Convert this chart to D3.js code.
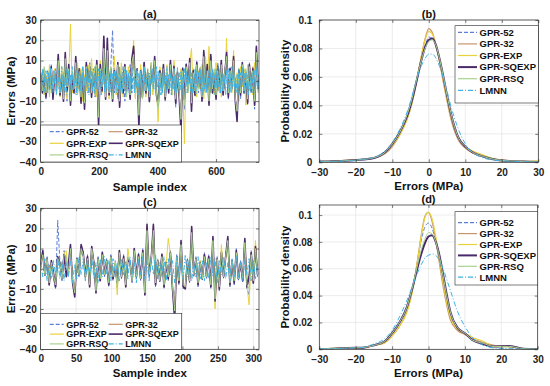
<!DOCTYPE html>
<html><head><meta charset="utf-8">
<script src="https://cdn.jsdelivr.net/npm/d3@7"></script>
<style>
body{margin:0;background:#fff;}
svg{display:block;font-family:"Liberation Sans",Arial,sans-serif;font-weight:bold;}
</style></head><body>
<svg id="c" width="550" height="386"></svg>
<script>
const seriesNames = ["GPR-52","GPR-32","GPR-EXP","GPR-SQEXP","GPR-RSQ","LMNN"];
const seriesColors = ["#5b7fd6","#c8956a","#e8d23c","#4a2a6a","#a9d28f","#3fb3e6"];

// ---- panel (a): errors vs sample index (every 6th sample; LMNN every 3rd) ----
const aIndex = d3.range(0, 750, 6);
const aIndexLMNN = d3.range(0, 750, 3);
const a52 = [4,-3,6,-9,5,-2,8,-6,3,-7, 9,-4,6,-8,3,-10,7,-5,4,-3, 8,-6,5,-9,7,-12,4,-6,9,-3, 6,-8,3,-15,7,-4,20,-7,12,-5, 8,25,-6,4,-9,6,-3,7,-10,5, -4,8,-6,14,-8,5,-16,6,-3,9, -7,4,-11,8,-5,10,-6,-9,4,-6, 7,-10,5,-4,9,-6,8,-13,5,-7, -18,7,-14,9,-5,6,-12,4,-8,10, -6,5,-9,13,-4,7,-10,12,-5,3, -8,9,-4,8,-6,4,15,-9,7,-3, 11,-8,-15,6,-9,7,-4,5,-12,9, -6,5,-14,15,-3];
const a32 = [1,-4,6,-7,4,-5,7,-8,2,-5, 11,-5,3,-9,12,-6,7,-11,4,-5, 10,-3,5,-10,4,-12,8,-4,6,-7, 3,-5,9,-20,7,-4,19,-8,18,-6, 5,-8,6,-3,8,-11,4,-5,7,-4, 3,-8,10,15,-3,5,-20,6,-7,8, -5,3,-9,6,-4,11,-6,-13,4,-5, 7,-8,4,-5,9,-4,6,-10,5,-7, -22,5,-10,7,-3,10,-13,6,-6,8, -4,5,-9,14,-4,7,-11,12,-5,5, -8,6,-4,9,-6,4,13,-7,5,-3, 11,-9,-18,6,-6,8,-5,3,-10,7, -4,7,-11,16,-3];
const aEXP = [-2,5,-7,3,-4,8,-6,2,6,-5, 4,-8,7,-3,5,-9,3,28,-6,4, -7,9,-4,6,-10,3,-5,8,-6,11, -3,7,-8,4,10,-6,5,-4,8,-9, 3,-5,12,-7,6,-3,9,-8,4,-6, 7,-4,5,20,-9,4,-6,8,-5,3, -8,6,-4,9,-7,5,-3,-20,7,-5, 4,-9,8,-3,6,-7,10,-4,5,-8, 6,-5,-31,7,-4,9,16,-6,3,-8, 5,-4,8,-9,12,-3,17,-6,4,-7, 9,-5,6,-8,3,-4,21,-7,5,-6, 15,-8,4,-10,7,-3,6,-12,8,-5, 4,-7,9,5,-6];
const aSQEXP = [3,-6,5,-8,2,-4,7,-9,4,-3, 13,-7,2,-10,14,-5,8,-12,3,-6, 12,-4,6,-11,5,-14,9,-3,7,-8, 4,-6,10,-22,8,-5,22,-9,21,-7, 6,-10,5,-4,9,-13,3,-6,8,-5, 2,-9,11,17,-4,6,-23,5,-8,9, -6,4,-10,7,-3,12,-7,-12,5,-4, 8,-9,3,-6,10,-5,7,-11,4,-8, -25,6,-9,8,-4,11,-15,5,-7,9, -3,6,-10,15,-5,8,-12,13,-6,4, -9,7,-5,10,-7,3,14,-8,6,-4, 12,-10,-20,5,-7,9,-6,4,-11,8, -5,6,-12,17,-4];
const aRSQ = [2,-5,7,-6,3,-8,6,-4,5,-7, 10,-6,4,-9,11,-3,6,-10,5,-4, 9,-7,4,-8,6,-11,7,-5,8,-6, 5,-7,8,-18,6,-3,16,-8,15,-6, 7,-9,4,-6,8,-10,5,-4,7,-8, 4,-7,9,13,-6,5,-17,4,-9,7, -5,6,-8,9,-4,10,-6,-14,4,-7, 6,-8,5,-4,8,-7,6,-9,3,-6, -19,5,-12,7,-6,9,-11,4,-5,8, -4,7,-8,12,-6,5,-10,10,-4,6, -7,5,-6,8,-5,4,12,-6,5,-5, 10,-9,-15,4,-6,8,-5,6,-9,7, -4,5,-10,14,-5];
const aLMNN = [4,-2,6,-5,3,-7,5,1,-6,4, -3,7,-4,2,-6,5,-2,6,-7,3, 5,-4,1,-6,7,-3,4,-5,2,-7, 6,-2,5,-6,3,-4,7,-5,1,-3, 5,-7,4,-2,6,-5,3,-6,7,-4, 2,-5,6,-3,4,-7,5,-1,6,-5, 3,-6,7,-4,2,-5,6,-3,5,-7, 4,-2,6,-6,3,-4,7,-5,2,-6, 5,-3,4,-7,6,-2,5,-6,3,-4, 7,-5,2,-6,4,-3,6,-7,5,-2, 4,-6,3,-5,7,-4,2,-6,5,-3, 6,-7,4,-2,5,-6,3,-4,7,-5, 2,-3,6,-5,4,-7,5,-2,6,-4, 3,-6,7,-3,5,-5,2,-7,4,-6, 6,-2,4,-6,7,-4,3,-5,5,-7, 2,-4,6,-5,3,-6,7,-3,4,-5, 5,-7,2,-4,6,-3,5,-6,3,-2, 7,-5,4,-6,2,-4,6,-7,5,-3, 4,-2,6,-5,3,-7,5,-4,7,-6, 2,-3,5,-6,4,-5,6,-2,3,-7, 6,-4,7,-3,5,-6,2,-5,4,-4, 3,-7,5,-2,6,-5,4,-6,7,-3, 5,-4,2,-6,3,-7,6,-3,4,-5, 7,-2,5,-6,4,-4,3,-7,6,-5, 2,-6,4,-3,5,-5,7,-4,3,-6];

// ---- panel (c): errors vs sample index (every 3rd sample) ----
const cIndex = d3.range(0, 309, 3);
const c52 = [3,5,-4,6,-7,2,-5,-10,24,4, -6,9,5,-4,11,-6,-11,6,-4,9, 6,-3,7,-8,8,4,-9,6,-5,9, -4,5,-9,7,-6,4,-10,8,-5,7, -8,6,4,-7,9,-5,8,-6,10,-10, 16,-4,6,17,-9,5,-7,8,-10,4, -6,9,-11,-18,7,-8,11,-10,-8,5, -7,16,-4,6,-9,4,-6,8,-5,7, -10,12,-14,6,-11,9,-5,7,13,-9, 5,-8,10,-6,4,-7,12,-10,-13,9, -8,10,-4];
const c32 = [2,8,-3,5,-8,3,-3,-9,6,3, -5,7,5,-3,11,-7,-13,5,-3,11, 8,-4,6,-9,10,3,-11,5,-6,8, -3,4,-8,6,-5,2,-8,9,-4,6, -9,5,3,-6,10,-4,7,-5,9,-13, 21,-3,5,21,-8,4,-6,7,-9,3, -5,8,-10,-23,6,-7,13,-9,-10,4, -6,20,-3,5,-8,3,-5,7,-4,6, -9,15,-15,5,-10,8,-4,6,15,-8, 4,-7,9,-5,3,-6,14,-9,-5,8, -7,11,-3];
const cEXP = [1,6,-2,4,-6,3,-4,-7,5,2, -4,8,9,-3,10,-5,-10,4,-2,10, 7,-5,5,-8,9,2,-10,4,-4,7, -2,3,-7,5,-4,3,-13,8,-3,5, -7,10,2,-5,8,-3,6,-4,7,-11, 18,-2,4,18,-7,5,-5,6,-8,2, 15,7,-9,-20,5,-6,12,-8,-9,3, -5,17,-2,4,-7,4,-4,6,-3,5, -8,13,-20,4,-9,12,-3,5,13,-7, 3,-6,8,-4,2,-5,13,-8,-18,7, -6,14,-2];
const cSQEXP = [2,9,-3,5,-8,4,-2,-9,6,3, -5,7,-4,2,12,-7,-14,5,-3,12, 8,-4,6,-9,11,3,-12,5,-6,8, -3,4,-8,6,-5,2,-7,9,-4,6, -9,5,3,-6,10,-4,7,-5,9,-13, 22,-3,5,22,-8,4,-6,7,-9,3, -5,8,-10,-25,6,-7,14,-9,-10,4, -6,21,-3,5,-8,3,-5,7,-4,6, -9,16,-16,5,-10,8,-4,6,16,-8, 4,-7,9,-5,3,-6,15,-9,-4,8, -7,11,-3];
const cRSQ = [2,7,-3,5,-7,3,-3,-8,5,3, -5,7,6,-3,10,-6,-12,5,-3,10, 7,-4,5,-8,10,3,-11,5,-5,7, -3,4,-7,6,-4,3,-9,8,-4,5, -8,6,3,-6,9,-4,6,-5,8,-12, 19,-3,5,19,-7,4,-6,6,-8,3, -4,8,-9,-21,6,-6,12,-8,-9,4, -6,18,-3,5,-7,3,-5,6,-4,5, -8,14,-15,5,-9,9,-4,6,14,-7, 4,-6,8,-5,3,-5,13,-8,-10,7, -6,10,-3];
const cLMNN = [3,-4,5,-6,2,-5,4,-3,6,-5, 4,-6,3,-4,5,-7,2,-5,6,-3, 5,-6,4,-3,6,-5,3,-7,5,-4, 6,-3,4,-6,5,-4,3,-6,5,-3, 4,-5,6,-4,3,-7,5,-3,6,-5, 4,-6,5,-3,7,-5,3,-4,6,-6, 5,-3,4,-7,6,-4,3,-5,7,-4, 5,-6,3,-4,6,-5,4,-6,3,-5, 6,-4,5,-7,4,-3,6,-5,3,-6, 5,-4,6,-5,3,-6,4,-3,5,-6, 4,-5,3];

// ---- density grid (errors, MPa) ----
const errGrid = [-30,-26,-22,-18,-15,-12,-10,-8,-6,-5,-4,-3,-2,-1,0,1,2,3,4,5,6,8,10,12,15,18,22,26,30];
const b52 = [0.0005,0.0007,0.0012,0.002,0.0032,0.007,0.013,0.021,0.032,0.040,0.050,0.062,0.073,0.082,0.088,0.087,0.081,0.071,0.059,0.046,0.034,0.018,0.011,0.007,0.004,0.002,0.001,0.0005,0.0002];
const b32 = [0.0004,0.0006,0.0012,0.002,0.003,0.006,0.011,0.019,0.030,0.038,0.048,0.061,0.075,0.087,0.094,0.091,0.082,0.070,0.056,0.043,0.031,0.016,0.010,0.0065,0.004,0.002,0.001,0.0005,0.0003];
const bEXP = [0.0005,0.0008,0.0016,0.002,0.003,0.007,0.012,0.019,0.030,0.038,0.049,0.062,0.075,0.086,0.092,0.090,0.082,0.070,0.057,0.044,0.033,0.018,0.011,0.008,0.005,0.0025,0.0012,0.0006,0.001];
const bSQEXP = [0.0005,0.0007,0.0012,0.002,0.003,0.007,0.013,0.021,0.032,0.040,0.050,0.061,0.072,0.081,0.086,0.087,0.082,0.072,0.060,0.047,0.035,0.018,0.011,0.007,0.004,0.002,0.001,0.0005,0.0002];
const bRSQ = [0.0005,0.0007,0.0012,0.002,0.0032,0.007,0.013,0.021,0.033,0.041,0.051,0.062,0.072,0.080,0.085,0.086,0.082,0.072,0.060,0.047,0.035,0.018,0.011,0.007,0.004,0.002,0.001,0.0005,0.0002];
const bLMNN = [0.0004,0.0006,0.001,0.002,0.0035,0.008,0.014,0.023,0.035,0.043,0.052,0.061,0.068,0.073,0.076,0.076,0.073,0.067,0.059,0.050,0.040,0.024,0.013,0.007,0.003,0.0015,0.0008,0.0004,0.0002];

const d52 = [0.0003,0.0006,0.001,0.0013,0.003,0.006,0.011,0.019,0.030,0.039,0.051,0.066,0.081,0.091,0.094,0.090,0.080,0.066,0.050,0.036,0.025,0.015,0.012,0.008,0.005,0.0025,0.002,0.0005,0.0002];
const d32 = [0.0003,0.0008,0.001,0.0012,0.003,0.005,0.010,0.017,0.028,0.037,0.050,0.067,0.085,0.099,0.102,0.095,0.081,0.064,0.047,0.033,0.022,0.014,0.011,0.008,0.005,0.003,0.002,0.0005,0.0002];
const dEXP = [0.0003,0.0008,0.001,0.0012,0.003,0.005,0.010,0.017,0.027,0.036,0.049,0.066,0.084,0.098,0.102,0.097,0.084,0.067,0.050,0.035,0.024,0.015,0.012,0.009,0.006,0.002,0.002,0.0005,0.0002];
const dSQEXP = [0.0003,0.0005,0.001,0.0012,0.003,0.006,0.012,0.020,0.031,0.040,0.050,0.061,0.071,0.079,0.084,0.085,0.080,0.070,0.056,0.041,0.028,0.016,0.012,0.007,0.004,0.002,0.0025,0.0005,0.0002];
const dRSQ = [0.0003,0.0006,0.001,0.0013,0.003,0.006,0.012,0.020,0.031,0.040,0.051,0.063,0.074,0.082,0.087,0.086,0.080,0.069,0.055,0.040,0.028,0.016,0.012,0.007,0.0045,0.002,0.0022,0.0005,0.0002];
const dLMNN = [0.0003,0.0005,0.0008,0.0015,0.004,0.008,0.014,0.024,0.036,0.043,0.050,0.057,0.063,0.068,0.070,0.071,0.070,0.066,0.060,0.052,0.044,0.028,0.017,0.009,0.003,0.001,0.0005,0.0002,0.0001];

const errTicks = [30,20,10,0,-10,-20,-30,-40];
const aXTicks = [0,200,400,600];
const cXTicks = [0,50,100,150,200,250,300];
const densXTicks = [-30,-20,-10,0,10,20,30];
const densYTicks = [0,0.02,0.04,0.06,0.08,0.1];

const dash = ["4,2","", "", "", "", "5,2,1,2"];
const widthTS = [1,1,1,1.6,1,1];
const widthPD = [1,1.2,1.2,2,1,1];

const svg = d3.select("#c");
const ink = "#262626";

function panel(o){
  const g = svg.append("g");
  const x = d3.scaleLinear().domain(o.xd).range([o.l, o.r]);
  const y = d3.scaleLinear().domain(o.yd).range([o.b, o.t]);
  g.append("g").selectAll("line").data(o.xt).join("line")
    .attr("x1",d=>x(d)).attr("x2",d=>x(d)).attr("y1",o.t).attr("y2",o.b)
    .attr("stroke","#e4e4e4").attr("stroke-width",0.7);
  g.append("g").selectAll("line").data(o.yt).join("line")
    .attr("y1",d=>y(d)).attr("y2",d=>y(d)).attr("x1",o.l).attr("x2",o.r)
    .attr("stroke","#e4e4e4").attr("stroke-width",0.7);
  const cid = "clip"+o.id;
  svg.append("clipPath").attr("id",cid).append("rect")
    .attr("x",o.l).attr("y",o.t).attr("width",o.r-o.l).attr("height",o.b-o.t);
  const lg = g.append("g").attr("clip-path",`url(#${cid})`);
  const curve = o.curve || d3.curveLinear;
  o.series.forEach((s,i)=>{
    const xs = o.xsList ? o.xsList[i] : o.xs;
    const line = d3.line().x((d,j)=>x(xs[j])).y(d=>y(d)).curve(curve);
    lg.append("path").attr("d",line(s)).attr("fill","none")
      .attr("stroke",seriesColors[i]).attr("stroke-width",o.widths[i])
      .attr("stroke-dasharray",dash[i]||null).attr("stroke-linejoin","round");
  });
  const xa = d3.axisBottom(x).tickValues(o.xt).tickSize(-3).tickPadding(o.xpad||6).tickFormat(o.xf||d3.format("d"));
  const ya = d3.axisLeft(y).tickValues(o.yt).tickSize(-3).tickPadding(o.ypad||4).tickFormat(o.yf||d3.format("d"));
  const xg = g.append("g").attr("transform",`translate(0,${o.b})`).call(xa);
  const yg = g.append("g").attr("transform",`translate(${o.l},0)`).call(ya);
  const xt2 = g.append("g").attr("transform",`translate(0,${o.t})`).call(d3.axisTop(x).tickValues(o.xt).tickSize(-3).tickFormat(""));
  const yt2 = g.append("g").attr("transform",`translate(${o.r},0)`).call(d3.axisRight(y).tickValues(o.yt).tickSize(-3).tickFormat(""));
  [xg,yg,xt2,yt2].forEach(a=>{
    a.select(".domain").remove();
    a.selectAll("line").attr("stroke",ink).attr("stroke-width",0.6);
    a.selectAll("text").attr("font-size",10).attr("font-weight","bold").attr("fill","#222")
     .attr("font-family","'Liberation Sans',Arial,sans-serif");
  });
  g.append("rect").attr("x",o.l).attr("y",o.t).attr("width",o.r-o.l).attr("height",o.b-o.t)
    .attr("fill","none").attr("stroke",ink).attr("stroke-width",0.7);
  g.append("text").attr("x",(o.l+o.r)/2).attr("y",o.t-2.5).attr("text-anchor","middle")
    .attr("font-size",11).attr("fill","#111").text(o.title);
  g.append("text").attr("x",(o.l+o.r)/2).attr("y",o.b+o.xly).attr("text-anchor","middle")
    .attr("font-size",11.5).attr("fill","#111").text(o.xl);
  g.append("text").attr("transform",`translate(${o.yx},${(o.t+o.b)/2}) rotate(-90)`)
    .attr("text-anchor","middle").attr("font-size",11.5).attr("fill","#111").text(o.yl);
  const L = o.leg;
  const lgG = g.append("g");
  lgG.append("rect").attr("x",L.x).attr("y",L.y).attr("width",L.w).attr("height",L.h)
    .attr("fill","#fff").attr("stroke",ink).attr("stroke-width",0.6);
  seriesNames.forEach((n,i)=>{
    const col = L.cols===2 ? i%2 : 0;
    const row = L.cols===2 ? Math.floor(i/2) : i;
    const lx = L.x + L.pad + col*L.colW;
    const ly = L.y + L.top + row*L.rowH;
    lgG.append("line").attr("x1",lx).attr("x2",lx+L.lineW).attr("y1",ly).attr("y2",ly)
      .attr("stroke",seriesColors[i]).attr("stroke-width",o.widths[i]===1?1.2:o.widths[i])
      .attr("stroke-dasharray",dash[i]||null);
    lgG.append("text").attr("x",lx+L.lineW+2.5).attr("y",ly+3.3).attr("font-size",L.fs)
      .attr("fill","#111").text(n);
  });
}

panel({id:"a",l:40.7,r:259,t:20,b:162,xd:[0,747],yd:[-40,30],xt:aXTicks,yt:errTicks,
  xsList:[aIndex,aIndex,aIndex,aIndex,aIndex,aIndexLMNN],series:[a52,a32,aEXP,aSQEXP,aRSQ,aLMNN],widths:widthTS,
  title:"(a)",xl:"Sample index",xly:28.5,yl:"Errors (MPa)",yx:15,
  leg:{x:40.7,y:125,w:141,h:37,cols:2,pad:9,colW:59,top:6.7,rowH:11.6,lineW:14,fs:9}});
panel({id:"c",l:40.7,r:259,t:208.3,b:349.3,xd:[0,308],yd:[-40,30],xt:cXTicks,yt:errTicks,
  xs:cIndex,series:[c52,c32,cEXP,cSQEXP,cRSQ,cLMNN],widths:widthTS,
  title:"(c)",xl:"Sample index",xly:27.5,yl:"Errors (MPa)",yx:15,
  leg:{x:40.7,y:313.3,w:141,h:36,cols:2,pad:9,colW:59,top:11,rowH:9.8,lineW:14,fs:9}});
panel({id:"b",l:319.3,r:538.3,t:20,b:162.3,xd:[-30,30],yd:[0,0.1],xt:densXTicks,yt:densYTicks,
  xs:errGrid,series:[b52,b32,bEXP,bSQEXP,bRSQ,bLMNN],widths:widthPD,curve:d3.curveMonotoneX,
  yf:d=>d===0?"0":String(d),xpad:7,ypad:7,
  title:"(b)",xl:"Errors (MPa)",xly:28,yl:"Probability density",yx:289,
  leg:{x:455,y:25.7,w:83.3,h:77.3,cols:1,pad:3,colW:0,top:6.6,rowH:11.6,lineW:19,fs:9.5}});
panel({id:"d",l:319.3,r:537.7,t:205,b:349.3,xd:[-30,30],yd:[0,0.1075],xt:densXTicks,yt:densYTicks,
  xs:errGrid,series:[d52,d32,dEXP,dSQEXP,dRSQ,dLMNN],widths:widthPD,curve:d3.curveMonotoneX,
  yf:d=>d===0?"0":String(d),xpad:7,ypad:7,
  title:"(d)",xl:"Errors (MPa)",xly:27.5,yl:"Probability density",yx:289,
  leg:{x:455,y:211.7,w:82.7,h:73.3,cols:1,pad:3,colW:0,top:11,rowH:10.9,lineW:19,fs:9.5}});
</script>
</body></html>
